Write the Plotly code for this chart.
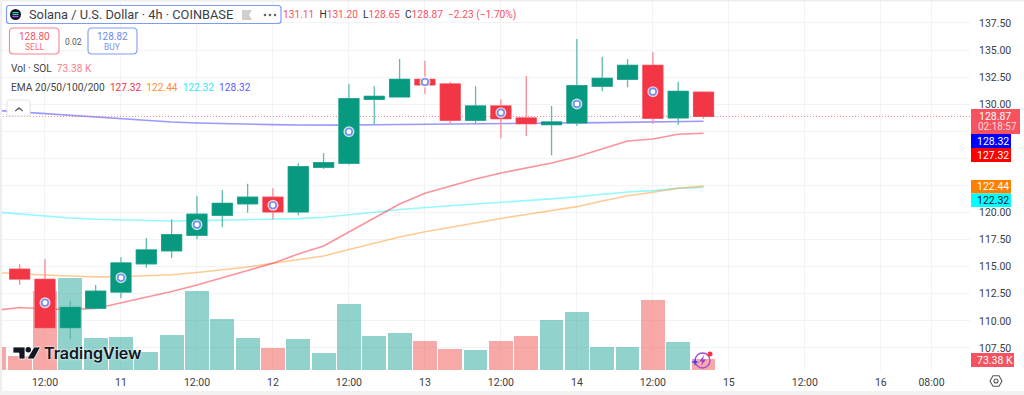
import plotly.graph_objects as go

W, H = 1024, 395
RED, GREEN = "#F23645", "#089981"

bars = list(range(-2, 27))
tick_pos = [0, 3, 6, 9, 12, 15, 18, 21, 24, 27, 30, 33, 35]
tick_txt = ["12:00", "11", "12:00", "12", "12:00", "13", "12:00", "14", "12:00", "15", "12:00", "16", "08:00"]
price_ticks = [107.5, 110, 112.5, 115, 117.5, 120, 122.5, 125, 127.5, 130, 132.5, 135, 137.5]
price_tick_txt = ["107.50", "110.00", "112.50", "115.00", "117.50", "120.00", "", "", "", "130.00", "132.50", "135.00", "137.50"]

# candles start at bar -1
c_bars = list(range(-1, 27))
opens = [114.76, 113.83, 109.37, 111.16, 112.66, 115.27, 116.47, 117.9, 119.74, 120.81, 121.41, 120.05, 124.18, 124.55,
         130.45, 130.67, 132.3, 131.87, 128.52, 129.84, 128.73, 128.11, 128.27, 131.66, 132.3, 133.59, 128.73, 131.11]
highs = [115.22, 115.71, 111.86, 113.31, 115.87, 117.65, 119.37, 121.53, 122.08, 122.66, 122.24, 124.55, 125.47, 131.87,
         131.66, 134.18, 134.02, 132.05, 131.66, 130.45, 132.61, 129.84, 136.02, 134.39, 134.18, 134.82, 132.08, 131.20]
lows = [113.34, 109.37, 108.3, 111.16, 112.08, 114.9, 115.8, 117.53, 118.64, 119.98, 119.37, 119.74, 124.02, 124.42,
        128.17, 130.67, 130.97, 128.17, 128.17, 126.85, 127.07, 125.28, 127.99, 131.19, 131.56, 128.2, 128.11, 128.65]
closes = [113.86, 109.37, 111.25, 112.73, 115.34, 116.54, 117.95, 119.84, 120.85, 121.41, 120.05, 124.23, 124.6, 130.51,
          130.73, 132.3, 131.78, 128.52, 129.84, 128.66, 128.2, 128.36, 131.71, 132.39, 133.59, 128.7, 131.19, 128.87]

volumes_k = [155, 93, 527, 616, 211, 222, 120, 233, 529, 340, 215, 147, 207, 111, 438,
             229, 245, 195, 142, 135, 195, 227, 335, 385, 155, 155, 465, 189, 73.38]
volume_up = [0, 0, 0, 1, 1, 1, 1, 1, 1, 1, 1, 0, 1, 1, 1, 1, 1, 0, 0, 1, 0, 0, 1, 1, 1, 1, 0, 1, 0]

ema20 = [110.95, 111.23, 111.09, 111.06, 111.14, 111.65, 112.15, 112.71, 113.31, 113.95, 114.65, 115.31, 116.17, 116.91,
         118.2, 119.49, 120.79, 121.78, 122.45, 123.1, 123.65, 124.11, 124.57, 125.15, 125.87, 126.6, 126.79, 127.22, 127.32]
ema50 = [114.46, 114.32, 114.23, 114.14, 114.06, 114.07, 114.14, 114.25, 114.46, 114.69, 114.97, 115.31, 115.62, 115.99,
         116.58, 117.19, 117.74, 118.23, 118.66, 119.03, 119.45, 119.82, 120.21, 120.54, 121.06, 121.55, 121.87, 122.24, 122.44]
ema100 = [120.05, 119.86, 119.63, 119.49, 119.38, 119.31, 119.25, 119.22, 119.25, 119.29, 119.33, 119.37, 119.44, 119.56,
          119.77, 120.02, 120.28, 120.48, 120.62, 120.78, 120.94, 121.07, 121.26, 121.46, 121.68, 121.9, 122.02, 122.24, 122.32]
ema200 = [129.44, 129.28, 129.14, 128.99, 128.8, 128.65, 128.52, 128.36, 128.27, 128.2, 128.15, 128.11, 128.08, 128.06,
          128.07, 128.1, 128.13, 128.15, 128.17, 128.18, 128.2, 128.22, 128.25, 128.28, 128.3, 128.33, 128.36, 128.4, 128.42]

signal_bars = [0, 3, 6, 9, 12, 15, 18, 21, 24]
signal_prices = [111.67, 113.98, 118.88, 120.67, 127.46, 132.05, 129.22, 130.02, 131.16]

last_close = 128.87
FONT = "Roboto, Noto Sans, sans-serif"
INK = "#2a2e39"


def px(x):
    return x / W


def py(y):
    return 1 - y / H


fig = go.Figure()

fig.add_trace(go.Bar(x=bars, y=volumes_k, width=0.94, yaxis="y",
                     marker=dict(color=["rgba(38,166,154,0.5)" if u else "rgba(239,83,80,0.5)" for u in volume_up],
                                 line=dict(width=0)), hoverinfo="skip"))

for vals, col in [(ema200, "rgba(70,70,255,0.55)"), (ema100, "rgba(0,240,250,0.42)"),
                  (ema50, "rgba(255,140,20,0.45)"), (ema20, "rgba(245,30,45,0.48)")]:
    fig.add_trace(go.Scatter(x=bars, y=vals, mode="lines", yaxis="y2", line=dict(color=col, width=1.6),
                             hoverinfo="skip"))

fig.add_trace(go.Scatter(x=[-1.776, 36.52], y=[last_close, last_close], mode="lines", yaxis="y2",
                         line=dict(color="rgba(242,54,69,0.6)", width=1, dash="1px,2px"), hoverinfo="skip"))

# wicks with a light edge round the body
fig.add_trace(go.Candlestick(x=c_bars, open=opens, high=highs, low=lows, close=closes, yaxis="y3",
                             increasing=dict(fillcolor=GREEN, line=dict(color="#5bbcac", width=1.3)),
                             decreasing=dict(fillcolor=RED, line=dict(color="#f88a94", width=1.3)),
                             whiskerwidth=0, hoverinfo="skip"))
# solid bodies on top, drawn from the same open and close values
fig.add_trace(go.Candlestick(x=c_bars, open=opens, close=closes,
                             high=[max(o, c) for o, c in zip(opens, closes)],
                             low=[min(o, c) for o, c in zip(opens, closes)], yaxis="y3",
                             increasing=dict(fillcolor=GREEN, line=dict(color=GREEN, width=0.5)),
                             decreasing=dict(fillcolor=RED, line=dict(color=RED, width=0.5)),
                             whiskerwidth=0, hoverinfo="skip"))

fig.add_trace(go.Scatter(x=signal_bars, y=signal_prices, mode="markers", yaxis="y3", hoverinfo="skip",
                         marker=dict(size=11, color="rgba(255,255,255,0.75)", line=dict(width=0))))
fig.add_trace(go.Scatter(x=signal_bars, y=signal_prices, mode="markers", yaxis="y3", hoverinfo="skip",
                         marker=dict(size=6.5, color="#ffffff", line=dict(width=1.6, color="#6f8ff2"))))

ann = []
shapes = []


def text(x, y, s, size=11, color=INK, anchor="left", **font_extra):
    ann.append(dict(x=px(x), y=py(y), xref="paper", yref="paper", text=s, showarrow=False, xanchor=anchor,
                    yanchor="middle", align=anchor, borderpad=0,
                    font=dict(family=FONT, size=size, color=color, **font_extra)))


def box(x0, y0, x1, y1, line=None, fill=None, lw=1, kind="rect", layer="above"):
    shapes.append(dict(type=kind, xref="paper", yref="paper", x0=px(x0), x1=px(x1), y0=py(y0), y1=py(y1),
                       line=dict(color=line or "rgba(0,0,0,0)", width=lw if line else 0), fillcolor=fill or "rgba(0,0,0,0)",
                       layer=layer))


def rrect(x0, y0, x1, y1, r, line, fill="#ffffff", lw=1):
    pts = lambda a, b: f"{px(a)},{py(b)}"
    d = (f"M{pts(x0 + r, y0)} L{pts(x1 - r, y0)} Q{pts(x1, y0)} {pts(x1, y0 + r)} L{pts(x1, y1 - r)} "
         f"Q{pts(x1, y1)} {pts(x1 - r, y1)} L{pts(x0 + r, y1)} Q{pts(x0, y1)} {pts(x0, y1 - r)} "
         f"L{pts(x0, y0 + r)} Q{pts(x0, y0)} {pts(x0 + r, y0)} Z")
    shapes.append(dict(type="path", xref="paper", yref="paper", path=d, line=dict(color=line, width=lw), fillcolor=fill))


def poly(points, fill=None, line=None, lw=1):
    d = "M" + " L".join(f"{px(a)},{py(b)}" for a, b in points) + " Z"
    shapes.append(dict(type="path", xref="paper", yref="paper", path=d, fillcolor=fill or "rgba(0,0,0,0)",
                       line=dict(color=line or "rgba(0,0,0,0)", width=lw if line else 0)))


# page edges
box(0, 0, 2, H, fill="#eeeeee")
box(0, 0, W, 1.5, fill="#eeeeee")
box(0, 391, W, H, fill="#f2f2f2")

# header
rrect(6.5, 5.5, 281, 23.5, 3, "#7f9cf5", lw=1.2)
box(10, 9, 21, 20, fill="#10141c", kind="circle")
for yy, c in [(12.6, "#19e6b0"), (14.6, "#5fa8e0"), (16.6, "#b04ff0")]:
    box(12.5, yy - 0.6, 18.5, yy + 0.6, fill=c)
text(28, 15, "Solana / U.S. Dollar · 4h · COINBASE", size=12.8, color="#3a3e49")
poly([(242, 10), (252, 10), (249, 15), (252, 20), (242, 20)], fill="#cfcfcf")
for xx in (265, 270, 275):
    box(xx - 1.3, 13.7, xx + 1.3, 16.3, fill="#666666", kind="circle")
R = "#f7525f"
text(282, 15, f"<span style='color:{R}'>131.11</span>  H<span style='color:{R}'>131.20</span>  "
              f"L<span style='color:{R}'>128.65</span>  C<span style='color:{R}'>128.87</span>  "
              f"<span style='color:{R}'>−2.23 (−1.70%)</span>", size=10.2)

rrect(9.5, 28, 59, 54, 4, "#f7848e", lw=1.1)
text(34, 36.5, "128.80", size=10, color=R, anchor="center")
text(34, 47.5, "SELL", size=8.5, color="#f7707b", anchor="center")
text(73, 41.5, "0.02", size=8.5, color="#555555", anchor="center")
rrect(88, 28, 137, 54, 4, "#7f9cf5", lw=1.1)
text(112.5, 36.5, "128.82", size=10, color="#6d8af0", anchor="center")
text(112.5, 47.5, "BUY", size=8.5, color="#7d97f0", anchor="center")

text(10, 68, f"Vol · SOL  <span style='color:#f7808a'>73.38 K</span>", size=10.2, color="#444444")
text(10, 88, "EMA 20/50/100/200  <span style='color:#f7303f'>127.32</span>  <span style='color:#ff9030'>122.44</span>  "
             "<span style='color:#30e8f0'>122.32</span>  <span style='color:#5a5aff'>128.32</span>", size=10.2,
     color="#444444")
rrect(7, 100, 30, 116, 2, "#e4e4e4")
poly([(15, 111), (19, 107.5), (23, 111), (19, 108.7)], fill="#555555", line="#555555", lw=0.8)

# right axis value flags
flags = [(109, 134, 1020, "#f7525f", None, None),
         (134, 148, 1011, "#0000ff", "128.32", "#ffffff"),
         (148, 162, 1011, "#ff0000", "127.32", "#ffffff"),
         (180, 193.5, 1011, "#ff7f00", "122.44", "#ffffff"),
         (193.5, 207, 1011, "#00ffff", "122.32", "#131722"),
         (353, 367, 1014, "#f7525f", "73.38 K", "#ffffff")]
for y0, y1, x1, col, label, tc in flags:
    box(971, y0, x1, y1, fill=col)
    if label:
        text(976, (y0 + y1) / 2, label, size=10.5, color=tc)
text(978, 116, "128.87", size=10.5, color="#ffffff")
text(977, 127, "02:18:57", size=10, color="#ffd9dd")

# logo
poly([(13, 347), (25, 347), (25, 359), (19, 359), (19, 353), (13, 353)], fill="#131722", line="#ffffff", lw=0.8)
box(25.5, 347, 31, 352.5, fill="#131722", kind="circle")
poly([(34, 347), (40.5, 347), (34, 359), (27, 359)], fill="#131722", line="#ffffff", lw=0.8)
text(43, 353, "TradingView", size=16, color="#131722", weight=600, shadow="0 0 3px #fff")
ann[-1]["font"]["family"] = "Inter, Roboto, sans-serif"

# assistant badge
box(695, 353, 710, 368, line="#a84fd8", lw=1.4, kind="circle")
poly([(704, 355), (699.5, 361.5), (702.5, 361.5), (701, 366), (706, 359.5), (703, 359.5)], fill="#9a3fd0")
box(707.5, 351.5, 712.5, 356.5, fill="#f23645", kind="circle")
poly([(695, 358), (696, 361), (699, 362), (696, 363), (695, 366), (694, 363), (691, 362), (694, 361)], fill="#4a3ff0")

# settings hexagon
poly([(990, 381), (993, 375.8), (999, 375.8), (1002, 381), (999, 386.2), (993, 386.2)], line="#555555", lw=1.1)
box(994, 379, 998, 383, line="#555555", lw=1.1, kind="circle")

price_range = [105.46, 139.62]
fig.update_layout(
    width=W, height=H, margin=dict(l=0, r=0, t=0, b=0), paper_bgcolor="#ffffff", plot_bgcolor="#ffffff",
    showlegend=False, boxgap=0.21, boxgroupgap=0, bargap=0, annotations=ann, shapes=shapes,
    font=dict(family=FONT, color=INK),
    xaxis=dict(domain=[0, 970 / W], range=[-1.776, 36.52], tickmode="array", tickvals=tick_pos, ticktext=tick_txt,
               showgrid=True, gridcolor="#f2f3f5", gridwidth=1, zeroline=False, showline=False, ticks="",
               rangeslider=dict(visible=False), tickfont=dict(size=10.5, color="#3a3e49"), ticklabelstandoff=4,
               anchor="y"),
    yaxis=dict(domain=[1 - 370 / H, 1], range=[0, 2468], visible=False, showgrid=False, fixedrange=True),
    yaxis2=dict(overlaying="y", range=price_range, visible=False, showgrid=False, anchor="x"),
    yaxis3=dict(overlaying="y", range=price_range, side="right", anchor="x", tickmode="array", tickvals=price_ticks,
                ticktext=price_tick_txt, showgrid=True, gridcolor="#f2f3f5", gridwidth=1, zeroline=False, showline=False,
                ticks="", tickfont=dict(size=10.5, color="#3a3e49"), ticklabelstandoff=8),
)

fig.write_html("out.html", config={"displayModeBar": False},
               post_script="document.body.style.margin='0';document.body.style.overflow='hidden';")
